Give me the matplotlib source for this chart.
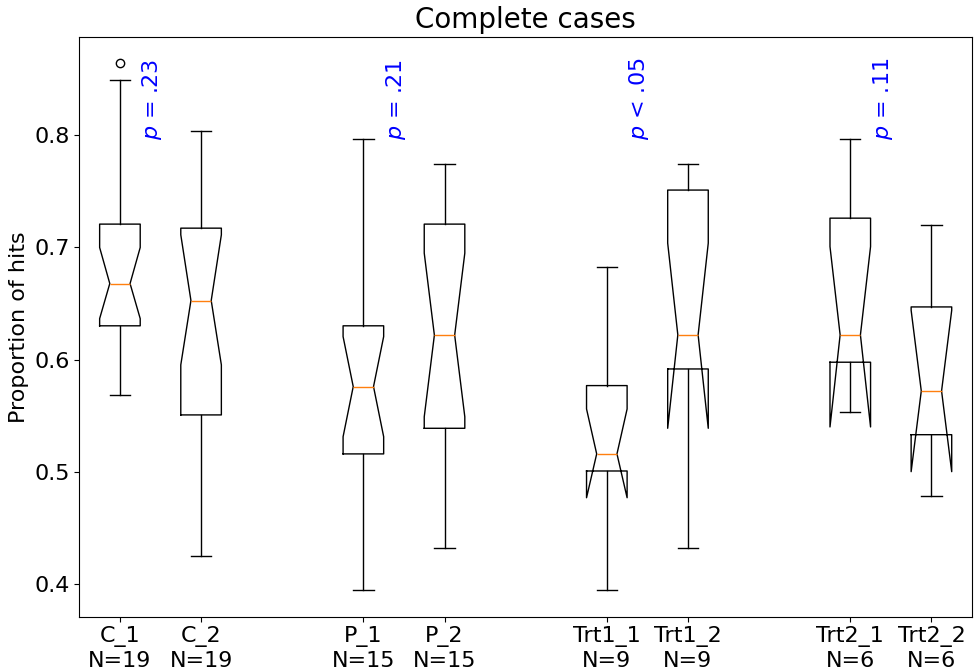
import matplotlib
matplotlib.use("Agg")
import matplotlib.pyplot as plt

groups = ["C_1", "C_2", "P_1", "P_2", "Trt1_1", "Trt1_2", "Trt2_1", "Trt2_2"]
counts = [19, 19, 15, 15, 9, 9, 6, 6]
positions = [1, 2, 4, 5, 7, 8, 10, 11]

medians = [0.6676, 0.6525, 0.5759, 0.6217, 0.5160, 0.6219, 0.6219, 0.5720]
q1s = [0.6300, 0.5507, 0.5160, 0.5388, 0.5008, 0.5916, 0.5976, 0.5331]
q3s = [0.7205, 0.7169, 0.6300, 0.7205, 0.5768, 0.7508, 0.7258, 0.6468]
ci_lo = [0.6364, 0.5952, 0.5313, 0.5490, 0.4770, 0.5388, 0.5400, 0.5002]
ci_hi = [0.6997, 0.7110, 0.6204, 0.6947, 0.5560, 0.7036, 0.7005, 0.6438]
whis_lo = [0.5685, 0.4248, 0.3946, 0.4322, 0.3946, 0.4322, 0.5530, 0.4783]
whis_hi = [0.8487, 0.8038, 0.7962, 0.7736, 0.6825, 0.7736, 0.7962, 0.7199]
fliers = [[0.8638], [], [], [], [], [], [], []]

p_texts = ["$p$ = .23", "$p$ = .21", "$p$ < .05", "$p$ = .11"]
p_positions = [1, 4, 7, 10]

stats = []
for i, g in enumerate(groups):
    stats.append(dict(
        label=f"{g}\nN={counts[i]}",
        med=medians[i], q1=q1s[i], q3=q3s[i],
        cilo=ci_lo[i], cihi=ci_hi[i],
        whislo=whis_lo[i], whishi=whis_hi[i],
        fliers=fliers[i],
    ))

fig = plt.figure(figsize=(9.76, 6.69), dpi=100)
ax = fig.add_axes([0.0813, 0.0782, 0.9146, 0.8669])
ax.bxp(stats, positions=positions, shownotches=True, widths=0.5,
       flierprops=dict(marker='o', markersize=6, markerfacecolor='none',
                       markeredgecolor='black'))
ax.set_xlim(0.5, 11.5)
ax.set_yticks([0.4, 0.5, 0.6, 0.7, 0.8])
ax.tick_params(axis='both', labelsize=16)
ax.set_ylabel("Proportion of hits", fontsize=16)
ax.set_title("Complete cases", fontsize=20)

for x, t in zip(p_positions, p_texts):
    ax.text(x + 0.4, 0.795, t, rotation=90, color='blue', fontsize=16,
            ha='center', va='bottom')

fig.savefig("out.png", dpi=100)
